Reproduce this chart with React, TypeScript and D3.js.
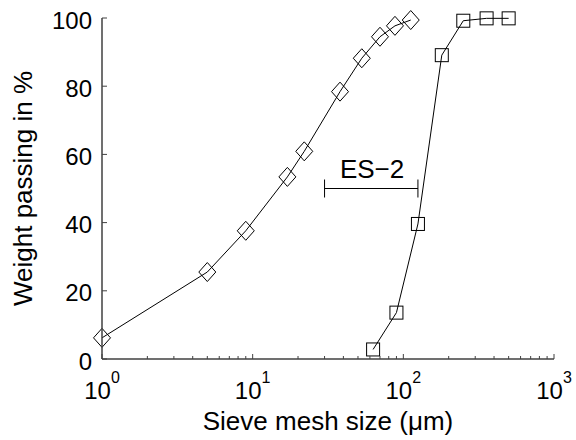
import React from "react";
import * as d3 from "d3";

// Series 1 (diamonds)
const diamondSize = [1, 5, 9, 17, 22, 38, 53, 70, 88, 112];
const diamondPassing = [6.2, 25.5, 37.6, 53.4, 60.9, 78.4, 88.2, 94.5, 97.7, 99.4];

// Series 2 (squares)
const squareSize = [63, 90, 125, 180, 250, 357, 500];
const squarePassing = [2.8, 13.6, 39.6, 89.1, 99.2, 99.9, 99.9];

// Axis ticks
const xMajorTicks = [1, 10, 100, 1000];
const xTickExponents = ["0", "1", "2", "3"];
const yTicks = [0, 20, 40, 60, 80, 100];

// Annotation
const esRange = [30, 125];
const esLevel = 50;
const esLabel = "ES\u22122";
const esLabelPos = [62, 53];

const W = 576;
const H = 440;
const FONT = "Arial, 'Liberation Sans', Helvetica, sans-serif";

export default function App() {
  const x = d3.scaleLog().domain([1, 1000]).range([102, 554]);
  const y = d3.scaleLinear().domain([0, 100]).range([359, 18]);
  const axisColor = "#404040";

  const minorTicks: number[] = [];
  for (let d = 0; d < 3; d++) {
    for (let m = 2; m <= 9; m++) minorTicks.push(m * Math.pow(10, d));
  }

  const line = d3
    .line<[number, number]>()
    .x((d) => x(d[0]))
    .y((d) => y(d[1]));

  const dPts: [number, number][] = diamondSize.map((s, i) => [s, diamondPassing[i]]);
  const sPts: [number, number][] = squareSize.map((s, i) => [s, squarePassing[i]]);

  const dw = 8.5;
  const dh = 9.5;
  const sq = 13;

  const y0 = y(0);
  const x0 = x(1);

  return (
    <svg
      width={W}
      height={H}
      style={{ position: "absolute", left: 0, top: 0, background: "#fff" }}
      fontFamily={FONT}
    >
      <rect x={0} y={0} width={W} height={H} fill="#fff" />
      {/* lines */}
      <path d={line(dPts) || ""} fill="none" stroke="#000" strokeWidth={1} />
      <path d={line(sPts) || ""} fill="none" stroke="#000" strokeWidth={1} />
      {/* diamond markers */}
      {dPts.map((p, i) => {
        const cx = x(p[0]);
        const cy = y(p[1]);
        return (
          <path
            key={"d" + i}
            d={`M${cx},${cy - dh}L${cx + dw},${cy}L${cx},${cy + dh}L${cx - dw},${cy}Z`}
            fill="none"
            stroke="#000"
            strokeWidth={1}
          />
        );
      })}
      {/* square markers */}
      {sPts.map((p, i) => (
        <rect
          key={"s" + i}
          x={x(p[0]) - sq / 2}
          y={y(p[1]) - sq / 2}
          width={sq}
          height={sq}
          fill="none"
          stroke="#000"
          strokeWidth={1}
        />
      ))}
      {/* ES-2 annotation */}
      <g stroke="#000" strokeWidth={1}>
        <line x1={x(esRange[0])} x2={x(esRange[1])} y1={y(esLevel)} y2={y(esLevel)} />
        <line x1={x(esRange[0])} x2={x(esRange[0])} y1={y(esLevel) - 9} y2={y(esLevel) + 9} />
        <line x1={x(esRange[1])} x2={x(esRange[1])} y1={y(esLevel) - 9} y2={y(esLevel) + 9} />
      </g>
      <text x={x(esLabelPos[0])} y={y(esLabelPos[1])} fontSize={26} textAnchor="middle" fill="#000">
        {esLabel}
      </text>
      {/* axes */}
      <line x1={x0} x2={x0} y1={y(100)} y2={y0} stroke={axisColor} strokeWidth={1.5} />
      <line x1={x0} x2={x(1000)} y1={y0} y2={y0} stroke={axisColor} strokeWidth={1.5} />
      {yTicks.map((t) => (
        <g key={"yt" + t}>
          <line x1={x0} x2={x0 + 5} y1={y(t)} y2={y(t)} stroke={axisColor} strokeWidth={1} />
          <text x={x0 - 10} y={y(t) + 10.5} fontSize={24} textAnchor="end" fill="#000">
            {t}
          </text>
        </g>
      ))}
      {minorTicks.map((t) => (
        <line key={"mt" + t} x1={x(t)} x2={x(t)} y1={y0} y2={y0 - 3} stroke={axisColor} strokeWidth={1} />
      ))}
      {xMajorTicks.map((t, i) => (
        <g key={"xt" + t}>
          <line x1={x(t)} x2={x(t)} y1={y0} y2={y0 - 5} stroke={axisColor} strokeWidth={1} />
          <text x={x(t)} y={y0 + 39.5} fontSize={24} textAnchor="middle" fill="#000">
            10
            <tspan fontSize={16} dy={-15.6}>
              {xTickExponents[i]}
            </tspan>
          </text>
        </g>
      ))}
      {/* titles */}
      <text x={(x(1) + x(1000)) / 2} y={430} fontSize={26} textAnchor="middle" fill="#000">
        Sieve mesh size (μm)
      </text>
      <text
        transform={`translate(32,${(y(0) + y(100)) / 2}) rotate(-90)`}
        fontSize={26}
        textAnchor="middle"
        fill="#000"
      >
        Weight passing in %
      </text>
    </svg>
  );
}
